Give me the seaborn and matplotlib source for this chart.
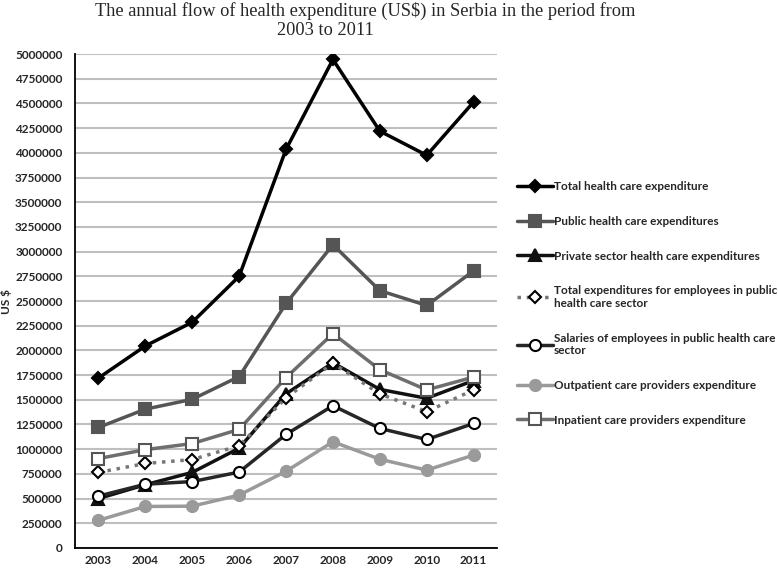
import numpy as np
import pandas as pd
import matplotlib
matplotlib.use("Agg")
import matplotlib.pyplot as plt
import seaborn as sns
from matplotlib.ticker import FuncFormatter

# %%
# Dados (US$)
years = ["2003", "2004", "2005", "2006", "2007", "2008", "2009", "2010", "2011"]

total_exp = [1720000, 2045000, 2285000, 2750000, 4035000, 4945000, 4220000, 3975000, 4515000]
public_exp = [1220000, 1405000, 1505000, 1735000, 2475000, 3070000, 2605000, 2455000, 2805000]
private_exp = [500000, 640000, 765000, 1010000, 1560000, 1875000, 1605000, 1515000, 1695000]
employees_exp = [765000, 855000, 895000, 1035000, 1520000, 1870000, 1560000, 1380000, 1600000]
salaries_exp = [525000, 645000, 672000, 768000, 1150000, 1440000, 1210000, 1098000, 1260000]
outpatient_exp = [280000, 420000, 423000, 535000, 776000, 1075000, 898000, 788000, 940000]
inpatient_exp = [905000, 995000, 1057000, 1200000, 1725000, 2170000, 1805000, 1600000, 1730000]

labels = ["Total health care expenditure",
          "Public health care expenditures",
          "Private sector health care expenditures",
          "Total expenditures for employees in public\nhealth care sector",
          "Salaries of employees in public health care\nsector",
          "Outpatient care providers expenditure",
          "Inpatient care providers expenditure"]

series = [total_exp, public_exp, private_exp, employees_exp,
          salaries_exp, outpatient_exp, inpatient_exp]

# %%
# Estilo de cada serie
estilos = [
    dict(color="#000000", marker="D", markersize=6, mfc="#000000", mec="#000000", ls="-"),
    dict(color="#555555", marker="s", markersize=8, mfc="#555555", mec="#555555", ls="-"),
    dict(color="#111111", marker="^", markersize=8, mfc="#111111", mec="#111111", ls="-"),
    dict(color="#777777", marker="D", markersize=6, mfc="white", mec="#000000", ls=":"),
    dict(color="#262626", marker="o", markersize=8, mfc="white", mec="#000000", ls="-"),
    dict(color="#9a9a9a", marker="o", markersize=8, mfc="#9a9a9a", mec="#9a9a9a", ls="-"),
    dict(color="#6e6e6e", marker="s", markersize=8, mfc="white", mec="#555555", ls="-"),
]

# %%
sns.set_style("white")
plt.rcParams["font.family"] = ["Lato", "DejaVu Sans"]

fig = plt.figure(figsize=(7.78, 5.69), dpi=100)
ax = fig.add_axes([0.0964, 0.037, 0.5425, 0.868])

x = np.arange(len(years))
ordem = [0, 1, 6, 3, 2, 4, 5]
linhas = {}
for i in ordem:
    st = estilos[i]
    sns.lineplot(x=x, y=series[i], ax=ax, color=st["color"], linewidth=2.5,
                 linestyle=st["ls"], marker=st["marker"], markersize=st["markersize"],
                 markerfacecolor=st["mfc"], markeredgecolor=st["mec"],
                 markeredgewidth=1.5, label=labels[i], legend=False, zorder=3 + i * 0.1)
    linhas[i] = ax.get_lines()[-1]

ax.set_xlim(-0.5, len(years) - 0.5)
ax.set_xticks(x)
ax.set_xticklabels(years)
ax.set_ylim(0, 5000000)
ax.set_yticks(np.arange(0, 5000001, 250000))
ax.yaxis.set_major_formatter(FuncFormatter(lambda v, p: f"{int(v)}"))
ax.grid(axis="y", color="#bfbfbf", linewidth=1.5, zorder=0)
ax.set_axisbelow(True)
for s in ["top", "right"]:
    ax.spines[s].set_visible(False)
for s in ["left", "bottom"]:
    ax.spines[s].set_color("#000000")
    ax.spines[s].set_linewidth(1.3)
ax.tick_params(axis="y", length=0, labelsize=8.5, pad=9)
ax.tick_params(axis="x", length=0, labelsize=8.5, pad=5)
for t in ax.get_xticklabels() + ax.get_yticklabels():
    t.set_fontweight("bold")

ax.set_ylabel("US $", fontsize=8.5, fontweight="bold", labelpad=2)
ax.set_xlabel("")

# titulo em duas linhas, centralizadas como no original
fig.text(0.469, 0.997, "The annual flow of health expenditure (US$) in Serbia in the period from",
         ha="center", va="top", fontsize=13.2, family="Liberation Serif")
fig.text(0.418, 0.962, "2003 to 2011",
         ha="center", va="top", fontsize=13.2, family="Liberation Serif")

fig.legend([linhas[i] for i in range(7)], labels, loc="upper left",
           bbox_to_anchor=(0.651, 0.70), frameon=False,
           prop={"weight": "bold", "size": 8.5}, labelspacing=2.0,
           handlelength=3.0, handletextpad=0.1)

fig.savefig("out.png", dpi=100)
